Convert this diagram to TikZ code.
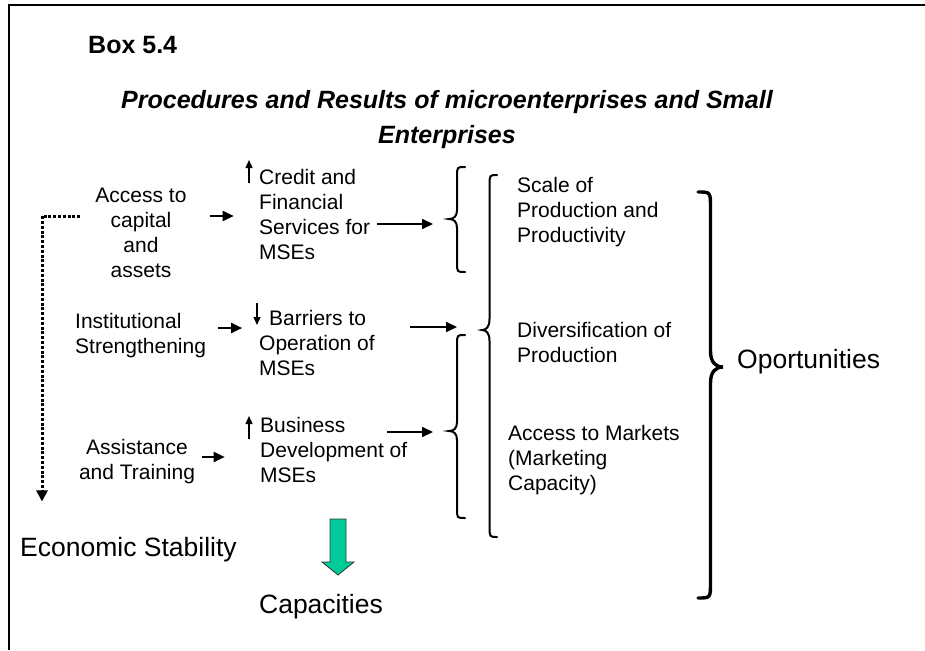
\documentclass[tikz,border=0pt]{standalone}
\usepackage{fontspec}
\setmainfont{Liberation Sans}
\usetikzlibrary{arrows.meta}
\definecolor{arrowgreen}{RGB}{0,204,153}
% #1 style, #2 tip x, #3 end x, #4 top y, #5 tip y, #6 bottom y, #7 curl radius
\newcommand\bracepath[7][]{%
  \draw[#1] (#3,#4) .. controls ({(#2+#3)/2},#4) .. ({(#2+#3)/2},{#4+#7})
    -- ({(#2+#3)/2},{#5-#7}) .. controls ({(#2+#3)/2},{#5-0.3*#7}) and ({(#2+#3)/2+0.2*(#2-#3)},#5) .. (#2,#5)
    .. controls ({(#2+#3)/2+0.2*(#2-#3)},#5) and ({(#2+#3)/2},{#5+0.3*#7}) .. ({(#2+#3)/2},{#5+#7})
    -- ({(#2+#3)/2},{#6-#7}) .. controls ({(#2+#3)/2},#6) .. (#3,#6);}
\begin{document}
\begin{tikzpicture}[x=1pt,y=-1pt,
  txt/.style={inner sep=0pt, font=\fontsize{21}{25}\selectfont},
  big/.style={inner sep=0pt, font=\fontsize{26.5}{30}\selectfont},
  arr/.style={line width=2pt, -{Triangle[length=11pt,width=10pt]}},
  tick/.style={line width=1.3pt, -{Triangle[length=8pt,width=7pt]}},
  dotarr/.style={line width=3pt, dash pattern=on 3pt off 1.8pt, -{Triangle[length=11pt,width=11pt]}},
  brc/.style={line width=2pt, line cap=round},
  bigbrc/.style={line width=3.4pt, line cap=round},
  frame/.style={line width=2.4pt}]
\useasboundingbox (0,0) rectangle (925,650);

% frame
\draw[frame] (9,650) -- (9,5) -- (925,5);

% heading
\node[inner sep=0pt, anchor=west, font=\fontsize{25}{30}\selectfont\bfseries] (box) at (88,45) {Box 5.4};
\node[inner sep=0pt, align=center, font=\fontsize{25}{35}\selectfont\bfseries\itshape] (title) at (447,119.5)
  {Procedures and Results of microenterprises and Small\\Enterprises};

% left column
\node[txt, align=center] (access) at (141,233) {Access to\\capital\\and\\assets};
\node[txt, align=left, anchor=west] (inst) at (75,336) {Institutional\\Strengthening};
\node[txt, align=center] (assist) at (137,462) {Assistance\\and Training};

% middle column
\node[txt, align=left, anchor=west] (credit) at (259,214) {Credit and\\Financial\\Services for\\MSEs};
\node[txt, align=left, anchor=west] (barr) at (259,343) {\hspace*{10pt}Barriers to\\Operation of\\MSEs};
\node[txt, align=left, anchor=west] (busi) at (260,450) {Business\\Development of\\MSEs};

% right column
\node[txt, align=left, anchor=west] (scale) at (517,212) {Scale of\\Production and\\Productivity};
\node[txt, align=left, anchor=west] (divers) at (517,342) {Diversification of\\Production};
\node[txt, align=left, anchor=west] (markets) at (508,460) {Access to Markets\\(Marketing\\Capacity)};

\node[big, anchor=west] (oport) at (737,362) {Oportunities};
\node[big, anchor=west] (econ) at (20,550) {Economic Stability};
\node[big] (capac) at (321,607) {Capacities};

% up/down ticks
\draw[tick] (credit.west) ++(-10,-31) -- ++(0,-23);
\draw[tick] (barr.west) ++(-2,-40) -- ++(0,22);
\draw[tick] (busi.west) ++(-11,-11) -- ++(0,-23);

% braces
\bracepath[brc]{449}{465}{167}{219}{272}{9}
\bracepath[brc]{482}{497}{175}{330}{537}{11}
\bracepath[brc]{449}{465}{335}{431}{518}{9}
\bracepath[bigbrc]{723}{698}{192}{367}{598}{16}

\coordinate (b1) at (449,224);
\coordinate (b2) at (482,327);
\coordinate (b3) at (449,432);

% arrows
\draw[arr] (access.east) ++(23,-17) -- ++(24,0);
\draw[arr] (inst.east) ++(12,-8) -- ++(24,0);
\draw[arr] (assist.east) ++(6.5,-5) -- ++(23,0);
\draw[arr, shorten >=16pt] (credit.east) ++(7,10) -- (b1);
\draw[arr, shorten >=25pt] (barr.east) ++(35,-16) -- (b2);
\draw[arr, shorten >=16pt] (busi.east) ++(-20,-18) -- (b3);

% dotted path to economic stability
\draw[dotarr] (access.west) ++(-15,-17) -| ([xshift=22pt,yshift=36pt]econ.north west);

% green block arrow
\draw[fill=arrowgreen, draw=black!80, line width=0.8pt, line join=miter]
  (330,519) -- (346,519) -- (346,562) -- (354,562) -- (338,575) -- (322,562) -- (330,562) -- cycle;
\end{tikzpicture}
\end{document}
